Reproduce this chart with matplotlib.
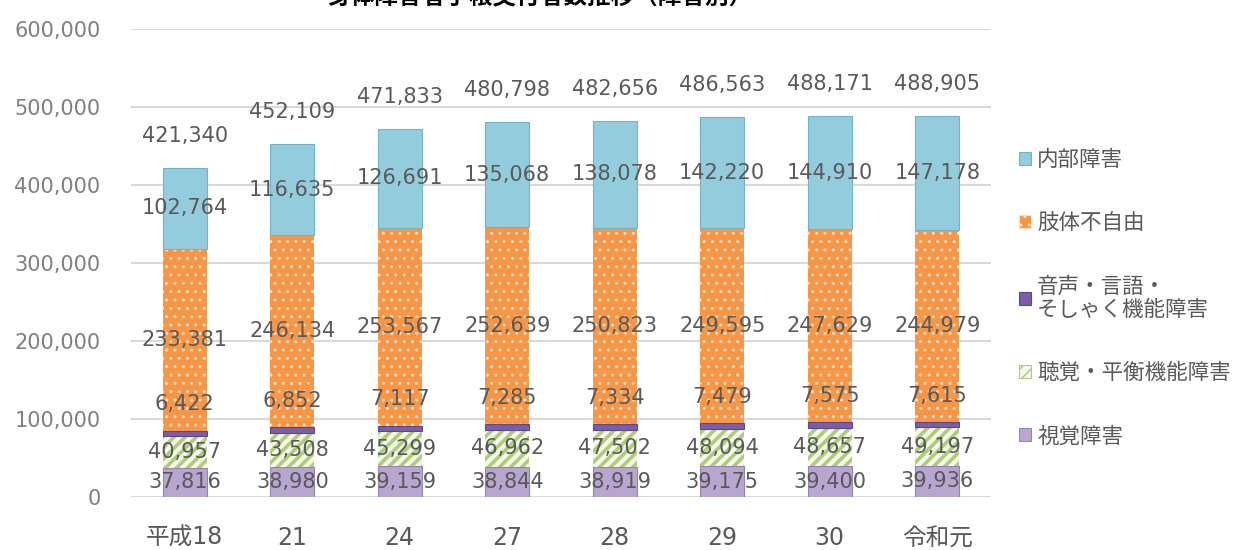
import numpy as np
import matplotlib
matplotlib.use('Agg')
import matplotlib.pyplot as plt
from matplotlib.patches import Patch

plt.rcParams['font.family'] = ['DejaVu Sans', 'Noto Sans CJK JP']

# 年度と障害別の交付者数
years = ['平成18', '21', '24', '27', '28', '29', '30', '令和元']
shikaku = [37816, 38980, 39159, 38844, 38919, 39175, 39400, 39936]
choukaku = [40957, 43508, 45299, 46962, 47502, 48094, 48657, 49197]
onsei = [6422, 6852, 7117, 7285, 7334, 7479, 7575, 7615]
shitai = [233381, 246134, 253567, 252639, 250823, 249595, 247629, 244979]
naibu = [102764, 116635, 126691, 135068, 138078, 142220, 144910, 147178]
series_names = ['視覚障害', '聴覚・平衡機能障害', '音声・言語・\nそしゃく機能障害', '肢体不自由', '内部障害']

txt_col = '#595959'

fig = plt.figure(figsize=(12.5, 5.5), dpi=100)
ax = fig.add_axes([131/1250, 53/550, 860/1250, 468/550])

x = np.arange(len(years))
w = 0.41
data = [shikaku, choukaku, onsei, shitai, naibu]
face = ['#b8a6d0', '#f4f8ea', '#7b5ea7', '#f79646', '#93cddd']
edge = ['#9783b3', '#b0cc78', '#5f4787', '#fde2c8', '#72b4c6']
hatch = [None, '///', None, '..', None]
hlw = [1, 2.6, 1, 1.0, 1]

bottom = np.zeros(len(years))
for i, vals in enumerate(data):
    vals = np.array(vals)
    with plt.rc_context({'hatch.linewidth': hlw[i]}):
        ax.bar(x, vals, w, bottom=bottom, color=face[i], edgecolor=edge[i],
               hatch=hatch[i], linewidth=0 if hatch[i] else 0.8, zorder=3)
    # 数値ラベル
    for j in range(len(years)):
        yc = bottom[j] + vals[j] / 2
        dy = 29 if i == 2 else 0
        ax.annotate('{:,}'.format(vals[j]), (x[j], yc), xytext=(0, dy),
                    textcoords='offset pixels', ha='center', va='center',
                    fontsize=15, color=txt_col, zorder=5)
    bottom = bottom + vals

# 合計
for j in range(len(years)):
    ax.annotate('{:,}'.format(int(bottom[j])), (x[j], bottom[j]), xytext=(0, 32),
                textcoords='offset pixels', ha='center', va='center',
                fontsize=15, color=txt_col, zorder=5)

ax.set_xlim(-0.5, len(years) - 0.5)
ax.set_ylim(0, 600000)
ax.set_yticks(np.arange(0, 600001, 100000))
ax.set_yticklabels(['{:,}'.format(v) for v in range(0, 600001, 100000)])
ax.set_xticks(x)
ax.set_xticklabels(years)
ax.tick_params(axis='y', length=0, pad=22, labelsize=15, labelcolor='#7f7f7f')
ax.tick_params(axis='x', length=0, pad=21, labelsize=17, labelcolor=txt_col)
ax.grid(axis='y', color='#d9d9d9', linewidth=1.5, zorder=0)
for s in ax.spines.values():
    s.set_visible(False)

# 凡例（上から内部障害）
handles = [Patch(facecolor=face[i], edgecolor=edge[i], hatch=hatch[i],
                 linewidth=0.8) for i in [4, 3, 2, 1, 0]]
labels = [series_names[i] for i in [4, 3, 2, 1, 0]]
fig.legend(handles, labels, loc='center left', bbox_to_anchor=(1008/1250, 1 - 298/550),
           frameon=False, fontsize=15.5, labelcolor=txt_col, handlelength=0.55,
           handleheight=0.55, handletextpad=0.3, labelspacing=2.0, borderpad=0)

fig.text(540/1250, 1 + 4/550, '身体障害者手帳交付者数推移（障害別）', ha='center', va='center',
         fontsize=17, fontweight='bold', family=['Noto Sans CJK JP'], color='#000000')

fig.savefig('out.png', dpi=100)
